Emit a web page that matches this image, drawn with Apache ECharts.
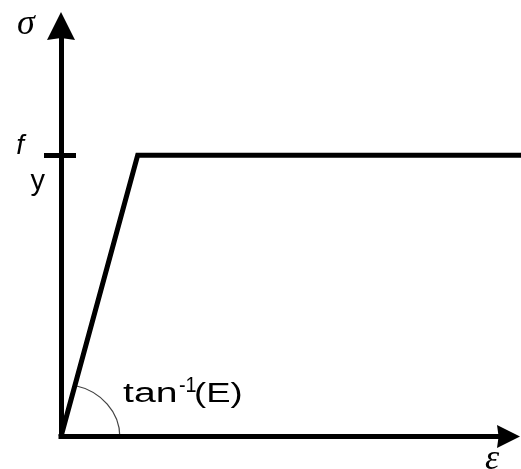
<!DOCTYPE html>
<html>
<head>
<meta charset="utf-8">
<script src="https://cdn.jsdelivr.net/npm/echarts@6/dist/echarts.min.js"></script>
<style>
  html, body { margin: 0; padding: 0; background: #fff; }
  #chart { width: 521px; height: 469px; }
</style>
</head>
<body>
<div id="chart"></div>
<script>
// Elastic – perfectly plastic stress–strain law, in normalised units
const strain = [0, 1, 6];            // ε / ε_y
const stress = [0, 1, 1];            // σ / f_y
const yieldTicks = [1];              // f_y marked on the stress axis
const yieldLabel = ['f', 'y'];
const axisNames = { x: 'ε', y: 'σ' };
const slopeLabel = ['tan', '-1', '(E)'];

const ink = '#000';
const sans = 'Liberation Sans, Arial, sans-serif';
const serif = 'Liberation Serif, Times New Roman, serif';
const arrowPath = 'path://M5,0 L10,10 L5,9.3 L0,10 Z';
const stressMax = 1.46;

const chart = echarts.init(document.getElementById('chart'), null, { renderer: 'canvas' });

const hidden = {
  axisLine: { show: false }, axisTick: { show: false },
  axisLabel: { show: false }, splitLine: { show: false }
};

chart.setOption({
  animation: false,
  backgroundColor: '#fff',
  grid: [
    // plotting area for the curve (runs to the right edge)
    { left: 61, right: 0, top: 26, bottom: 32.5, containLabel: false },
    // frame carrying the two arrowed axes
    { left: 61, right: 12.5, top: 26, bottom: 32.5, containLabel: false }
  ],
  xAxis: [
    Object.assign({ type: 'value', gridIndex: 0, min: 0, max: strain[2] }, hidden),
    {
      type: 'value', gridIndex: 1, min: 0, max: 1,
      axisLine: {
        show: true, onZero: false,
        symbol: ['none', arrowPath], symbolSize: [24, 23],
        lineStyle: { color: ink, width: 5, cap: 'square' }
      },
      axisTick: { show: false }, axisLabel: { show: false }, splitLine: { show: false }
    }
  ],
  yAxis: [
    Object.assign({ type: 'value', gridIndex: 0, min: 0, max: stressMax }, hidden),
    {
      type: 'value', gridIndex: 1, min: 0, max: stressMax, position: 'left',
      axisLine: {
        show: true, onZero: false,
        symbol: ['none', arrowPath], symbolSize: [29, 28],
        lineStyle: { color: ink, width: 5, cap: 'square' }
      },
      axisTick: {
        show: true, inside: false, length: 17, customValues: yieldTicks,
        lineStyle: { color: ink, width: 5 }
      },
      axisLabel: {
        show: true, customValues: yieldTicks, margin: 16,
        formatter: () => '{f|' + yieldLabel[0] + '}\n{y|' + yieldLabel[1] + '}',
        rich: {
          f: { fontFamily: sans, fontSize: 28, fontStyle: 'italic', color: ink,
               lineHeight: 54, padding: [0, 21, 0, 0] },
          y: { fontFamily: sans, fontSize: 29, color: ink, lineHeight: 18 }
        }
      },
      splitLine: { show: false }
    },
    {
      type: 'value', gridIndex: 1, min: 0, max: stressMax, position: 'left', offset: 0,
      axisLine: { show: false },
      axisTick: {
        show: true, inside: true, length: 15, customValues: yieldTicks,
        lineStyle: { color: ink, width: 5 }
      },
      axisLabel: { show: false },
      splitLine: { show: false }
    }
  ],
  series: [{
    type: 'line',
    xAxisIndex: 0, yAxisIndex: 0,
    data: strain.map((e, i) => [e, stress[i]]),
    showSymbol: false,
    symbol: 'none',
    silent: true,
    lineStyle: { color: ink, width: 5, join: 'miter', cap: 'butt' }
  }]
});

// Angle mark between the elastic branch and the strain axis
const o = chart.convertToPixel({ gridIndex: 0 }, [strain[0], stress[0]]);
const k = chart.convertToPixel({ gridIndex: 0 }, [strain[1], stress[1]]);
const sx = 1.12;
const theta = Math.atan2(k[1] - o[1], (k[0] - o[0]) / sx);

chart.setOption({
  graphic: [
    {
      type: 'arc', x: o[0], y: o[1], scaleX: sx, silent: true,
      shape: { cx: 0, cy: 0, r: 52.5, startAngle: theta, endAngle: 0, clockwise: true },
      style: { stroke: '#444', lineWidth: 1.1, fill: null, strokeNoScale: true }
    },
    {
      type: 'text', x: 17, y: 25, silent: true,
      style: { text: axisNames.y, font: 'italic 36px ' + serif, fill: ink,
               align: 'left', verticalAlign: 'middle' }
    },
    {
      type: 'text', x: 485, y: 460, silent: true,
      style: { text: axisNames.x, font: 'italic 36px ' + serif, fill: ink,
               align: 'left', verticalAlign: 'middle' }
    },
    {
      type: 'text', x: 123, y: 395, scaleX: 1.45, silent: true,
      style: { text: slopeLabel[0], font: '27px ' + sans, fill: ink,
               align: 'left', verticalAlign: 'middle' }
    },
    {
      type: 'text', x: 179, y: 386, scaleX: 0.9, silent: true,
      style: { text: slopeLabel[1], font: '22px ' + sans, fill: ink,
               align: 'left', verticalAlign: 'middle' }
    },
    {
      type: 'text', x: 194, y: 395, scaleX: 1.35, silent: true,
      style: { text: slopeLabel[2], font: '27px ' + sans, fill: ink,
               align: 'left', verticalAlign: 'middle' }
    }
  ]
});
</script>
</body>
</html>
